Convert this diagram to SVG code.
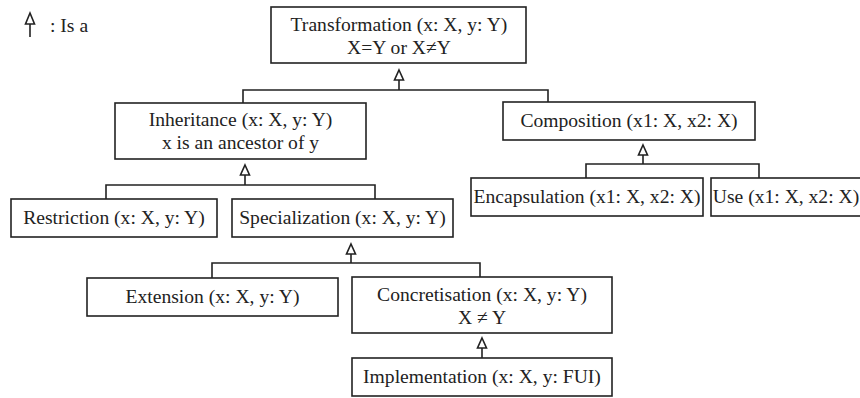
<svg xmlns="http://www.w3.org/2000/svg" width="860" height="398" viewBox="0 0 860 398">
<defs>
<style>
.box{fill:#fff;stroke:#222;stroke-width:1.6}
.t{font-family:"Liberation Serif","Times New Roman",serif;font-size:19.6px;fill:#222;text-anchor:middle}
.c{fill:none;stroke:#222;stroke-width:1.6}
.tri{fill:#fff;stroke:#222;stroke-width:1.6;stroke-linejoin:miter}
</style>
</defs>
<rect width="860" height="398" fill="#fff"/>
<g id="legend">
<path class="c" d="M30,24 V37"/>
<path class="tri" d="M30,13 L34.5,24 L25.5,24 Z"/>
<text class="t" x="50" y="32" style="text-anchor:start">: Is a</text>
</g>
<g id="connectors">
<path class="c" d="M399,80 V90 M243,103 V90 H548 V102"/>
<path class="tri" d="M399,70 L403.5,80 L394.5,80 Z"/>
<path class="c" d="M245,175 V185 M106,199 V185 H375 V199"/>
<path class="tri" d="M245,165 L249.5,175 L240.5,175 Z"/>
<path class="c" d="M351,254 V263 M212,278 V263 H480 V277"/>
<path class="tri" d="M351,244 L355.5,254 L346.5,254 Z"/>
<path class="c" d="M482,348 V358"/>
<path class="tri" d="M482,338 L486.5,348 L477.5,348 Z"/>
<path class="c" d="M643,155 V164 M586,178 V164 H759 V178"/>
<path class="tri" d="M643,145 L647.5,155 L638.5,155 Z"/>
</g>
<g id="transformation">
<rect class="box" x="271" y="7" width="255" height="56"/>
<text class="t" x="399" y="31">Transformation (x: X, y: Y)</text>
<text class="t" x="399" y="54">X=Y or X≠Y</text>
</g>
<g id="inheritance">
<rect class="box" x="115" y="103" width="251" height="56"/>
<text class="t" x="240.5" y="126">Inheritance (x: X, y: Y)</text>
<text class="t" x="240.5" y="149">x is an ancestor of y</text>
</g>
<g id="composition">
<rect class="box" x="503" y="102" width="252" height="38"/>
<text class="t" x="629" y="127">Composition (x1: X, x2: X)</text>
</g>
<g id="restriction">
<rect class="box" x="11" y="199" width="206" height="38"/>
<text class="t" x="114" y="224">Restriction (x: X, y: Y)</text>
</g>
<g id="specialization">
<rect class="box" x="232" y="199" width="221" height="38"/>
<text class="t" x="342.5" y="224">Specialization (x: X, y: Y)</text>
</g>
<g id="encapsulation">
<rect class="box" x="471" y="178" width="232" height="38"/>
<text class="t" x="587" y="203">Encapsulation (x1: X, x2: X)</text>
</g>
<g id="use">
<rect class="box" x="711" y="178" width="152" height="38"/>
<text class="t" x="786" y="203">Use (x1: X, x2: X)</text>
</g>
<g id="extension">
<rect class="box" x="87" y="278" width="251" height="38"/>
<text class="t" x="212.5" y="303">Extension (x: X, y: Y)</text>
</g>
<g id="concretisation">
<rect class="box" x="352" y="277" width="260" height="56"/>
<text class="t" x="482" y="301">Concretisation (x: X, y: Y)</text>
<text class="t" x="482" y="324">X ≠ Y</text>
</g>
<g id="implementation">
<rect class="box" x="352" y="358" width="260" height="38"/>
<text class="t" x="482" y="383">Implementation (x: X, y: FUI)</text>
</g>
</svg>
